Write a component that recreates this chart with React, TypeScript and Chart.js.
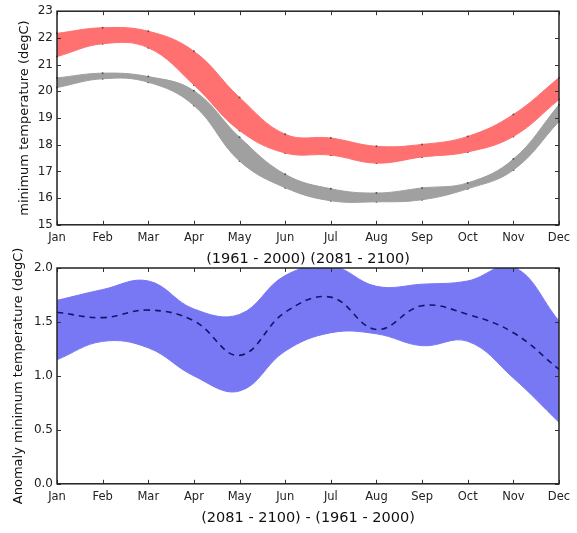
import React, { useEffect, useRef } from "react";
import { Chart, registerables } from "chart.js";

Chart.register(...registerables);

const months = ["Jan", "Feb", "Mar", "Apr", "May", "Jun", "Jul", "Aug", "Sep", "Oct", "Nov", "Dec"];

// Top panel: future (2081-2100) band in red, baseline (1961-2000) band in grey
const futureUpper = [22.17, 22.38, 22.25, 21.5, 19.77, 18.39, 18.25, 17.94, 18.01, 18.31, 19.13, 20.51];
const futureLower = [21.3, 21.78, 21.63, 20.24, 18.53, 17.69, 17.61, 17.31, 17.54, 17.73, 18.31, 19.69];
const baseUpper = [20.5, 20.68, 20.55, 20.02, 18.28, 16.89, 16.35, 16.19, 16.38, 16.57, 17.46, 19.5];
const baseLower = [20.14, 20.47, 20.34, 19.47, 17.39, 16.39, 15.9, 15.86, 15.94, 16.35, 17.05, 18.87];

// Bottom panel: anomaly band and mean
const anomUpper = [1.7, 1.8, 1.88, 1.62, 1.57, 1.93, 2.02, 1.83, 1.85, 1.88, 2.01, 1.51];
const anomLower = [1.15, 1.32, 1.26, 1.0, 0.86, 1.23, 1.4, 1.39, 1.28, 1.32, 0.98, 0.57];
const anomMean = [1.59, 1.54, 1.61, 1.51, 1.19, 1.59, 1.73, 1.43, 1.65, 1.57, 1.4, 1.06];

const topTicks = [15, 16, 17, 18, 19, 20, 21, 22, 23];
const bottomTicks = [0.0, 0.5, 1.0, 1.5, 2.0];

const FONT = "'DejaVu Sans', sans-serif";

const innerTicks = {
  id: "innerTicks",
  afterDatasetsDraw(chart: any) {
    const { ctx, chartArea: a, scales } = chart;
    const x = scales.x;
    const y = scales.y;
    ctx.save();
    ctx.strokeStyle = "#333";
    ctx.lineWidth = 1;
    const len = 4;
    for (let i = 0; i < months.length; i++) {
      const px = Math.round(x.getPixelForValue(i)) + 0.5;
      ctx.beginPath();
      ctx.moveTo(px, a.bottom);
      ctx.lineTo(px, a.bottom - len);
      ctx.moveTo(px, a.top);
      ctx.lineTo(px, a.top + len);
      ctx.stroke();
    }
    for (const t of y.ticks) {
      const py = Math.round(y.getPixelForValue(t.value)) + 0.5;
      ctx.beginPath();
      ctx.moveTo(a.left, py);
      ctx.lineTo(a.left + len, py);
      ctx.moveTo(a.right, py);
      ctx.lineTo(a.right - len, py);
      ctx.stroke();
    }
    ctx.strokeStyle = "#222";
    ctx.lineWidth = 1.5;
    ctx.strokeRect(a.left, a.top, a.right - a.left, a.bottom - a.top);
    ctx.restore();
  },
};

function makeOptions(yMin: number, yMax: number, tickVals: number[], yTitle: string, xTitle: string, top: number, titlePad: number, fmt: (v: number) => string) {
  return {
    responsive: false,
    animation: false as const,
    layout: { padding: { top, right: 18, left: 0, bottom: 0 } },
    plugins: { legend: { display: false }, tooltip: { enabled: false } },
    elements: { line: { tension: 0.4 } },
    scales: {
      x: {
        type: "category" as const,
        offset: false,
        grid: { display: false, drawTicks: false },
        border: { display: false },
        ticks: { color: "#222", font: { family: FONT, size: 11.5 }, padding: 6, maxRotation: 0, autoSkip: false },
        title: { display: true, text: xTitle, color: "#111", font: { family: FONT, size: 14.5 }, padding: { top: 0, bottom: 0 } },
      },
      y: {
        min: yMin,
        max: yMax,
        grid: { display: false, drawTicks: false },
        border: { display: false },
        afterBuildTicks: (s: any) => {
          s.ticks = tickVals.map((v) => ({ value: v }));
        },
        afterFit: (s: any) => {
          s.width = 57;
        },
        ticks: { color: "#222", font: { family: FONT, size: 12 }, padding: 4, callback: (v: any) => fmt(Number(v)) },
        title: { display: true, text: yTitle, color: "#111", font: { family: FONT, size: 13 }, padding: { top: titlePad, bottom: 0 } },
      },
    },
  };
}

function TopChart() {
  const ref = useRef<HTMLCanvasElement>(null);
  useEffect(() => {
    const c = new Chart(ref.current!, {
      type: "line",
      data: {
        labels: months,
        datasets: [
          { data: futureUpper, borderColor: "#ff7070", backgroundColor: "#ff7070", borderWidth: 1, fill: "+1", pointRadius: 1, pointBackgroundColor: "#555", pointBorderWidth: 0 },
          { data: futureLower, borderColor: "#ff7070", backgroundColor: "#ff7070", borderWidth: 1, fill: false, pointRadius: 1, pointBackgroundColor: "#555", pointBorderWidth: 0 },
          { data: baseUpper, borderColor: "#a0a0a0", backgroundColor: "#a0a0a0", borderWidth: 1, fill: "+1", pointRadius: 1, pointBackgroundColor: "#555", pointBorderWidth: 0 },
          { data: baseLower, borderColor: "#a0a0a0", backgroundColor: "#a0a0a0", borderWidth: 1, fill: false, pointRadius: 1, pointBackgroundColor: "#555", pointBorderWidth: 0 },
        ],
      },
      options: makeOptions(15, 23, topTicks, "minimum temperature (degC)", "(1961 - 2000) (2081 - 2100)", 9, 17, (v) => String(v)) as any,
      plugins: [innerTicks],
    });
    return () => c.destroy();
  }, []);
  return <canvas ref={ref} width={577} height={268} style={{ position: "absolute", left: 0, top: 0 }} />;
}

function BottomChart() {
  const ref = useRef<HTMLCanvasElement>(null);
  useEffect(() => {
    const c = new Chart(ref.current!, {
      type: "line",
      data: {
        labels: months,
        datasets: [
          { data: anomMean, borderColor: "#14146e", borderWidth: 1.6, borderDash: [6, 5], fill: false, pointRadius: 0 },
          { data: anomUpper, borderColor: "#7878f5", backgroundColor: "#7878f5", borderWidth: 1, fill: "+1", pointRadius: 0 },
          { data: anomLower, borderColor: "#7878f5", backgroundColor: "#7878f5", borderWidth: 1, fill: false, pointRadius: 0 },
        ],
      },
      options: makeOptions(0, 2, bottomTicks, "Anomaly minimum temperature (degC)", "(2081 - 2100) - (1961 - 2000)", 28, 11, (v) => v.toFixed(1)) as any,
      plugins: [innerTicks],
    });
    return () => c.destroy();
  }, []);
  return <canvas ref={ref} width={577} height={287} style={{ position: "absolute", left: 0, top: 240 }} />;
}

export default function App() {
  return (
    <div style={{ position: "fixed", left: 0, top: 0, width: 577, height: 533, background: "#fff" }}>
      <TopChart />
      <BottomChart />
    </div>
  );
}
